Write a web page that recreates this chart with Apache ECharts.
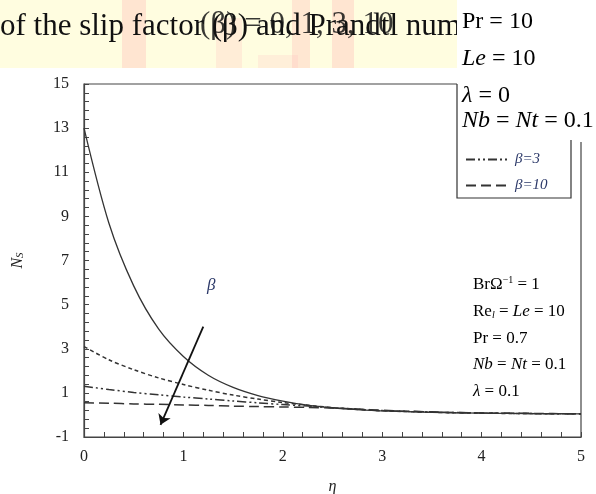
<!DOCTYPE html>
<html>
<head>
<meta charset="utf-8">
<script src="https://cdn.jsdelivr.net/npm/echarts@6/dist/echarts.min.js"></script>
<style>
  html, body { margin: 0; padding: 0; background: #fff; }
  #chart { width: 596px; height: 494px; }
</style>
</head>
<body>
<div id="chart"></div>
<script>
// eta values along the x axis
const eta = [0, 0.25, 0.5, 0.75, 1, 1.25, 1.5, 1.75, 2, 2.25, 2.5, 2.75, 3, 3.5, 4, 4.5, 5];
// entropy generation N_s for each slip factor
const nsBeta0 = [13, 8.7, 5.85, 3.9, 2.65, 1.8, 1.25, 0.88, 0.63, 0.44, 0.32, 0.24, 0.18, 0.12, 0.08, 0.06, 0.05];
const nsBeta1 = [3.1, 2.5, 2.05, 1.68, 1.38, 1.12, 0.9, 0.72, 0.56, 0.44, 0.33, 0.25, 0.19, 0.12, 0.08, 0.06, 0.05];
const nsBeta3 = [1.3, 1.15, 1.02, 0.91, 0.81, 0.72, 0.63, 0.55, 0.47, 0.4, 0.33, 0.26, 0.2, 0.13, 0.09, 0.06, 0.05];
const nsBeta10 = [0.55, 0.53, 0.5, 0.48, 0.45, 0.43, 0.4, 0.38, 0.36, 0.34, 0.31, 0.27, 0.21, 0.14, 0.09, 0.07, 0.05];
const xTicks = [0, 1, 2, 3, 4, 5];
const yTicks = [-1, 1, 3, 5, 7, 9, 11, 13, 15];

const serif = 'Liberation Serif';
const ink = '#333';

function pairs(ys) {
  return eta.map((x, i) => [x, ys[i]]);
}

// one line of the top-right parameter box
function boxLine(text, y) {
  return {
    type: 'text', z: 12, x: 462, y: y,
    style: {
      text: text, verticalAlign: 'middle',
      rich: {
        r: { fontFamily: serif, fontSize: 24, color: '#111' },
        i: { fontFamily: serif, fontStyle: 'italic', fontSize: 24, color: '#111' }
      }
    }
  };
}

const chart = echarts.init(document.getElementById('chart'));

const option = {
  animation: false,
  backgroundColor: '#fff',
  grid: {
    left: 84, right: 15, top: 84, bottom: 57,
    outerBoundsMode: 'none', containLabel: false,
    show: true, borderColor: '#444', borderWidth: 1.2, backgroundColor: 'transparent'
  },
  xAxis: {
    type: 'value',
    min: xTicks[0], max: xTicks[xTicks.length - 1], interval: 1,
    name: 'η', nameLocation: 'middle', nameGap: 42,
    nameTextStyle: { fontFamily: serif, fontStyle: 'italic', fontSize: 16, color: '#222' },
    axisLine: { onZero: false, lineStyle: { color: '#444', width: 1.2 } },
    axisTick: { inside: true, length: 5, lineStyle: { color: '#444' } },
    minorTick: { show: true, splitNumber: 5, length: 5, lineStyle: { color: '#444' } },
    axisLabel: { fontFamily: serif, fontSize: 16, color: '#222', margin: 12 },
    splitLine: { show: false }
  },
  yAxis: {
    type: 'value',
    min: yTicks[0], max: yTicks[yTicks.length - 1], interval: 2,
    name: '{n|N}{s|S}', nameLocation: 'middle', nameGap: 58, nameRotate: 90,
    nameTextStyle: {
      rich: {
        n: { fontFamily: serif, fontStyle: 'italic', fontSize: 16, color: '#222' },
        s: { fontFamily: serif, fontStyle: 'italic', fontSize: 11, color: '#222', padding: [6, 0, 0, 0] }
      }
    },
    axisLine: { onZero: false, lineStyle: { color: '#444', width: 1.2 } },
    axisTick: { inside: true, length: 5, lineStyle: { color: '#444' } },
    minorTick: { show: true, splitNumber: 5, length: 5, lineStyle: { color: '#444' } },
    axisLabel: { fontFamily: serif, fontSize: 16, color: '#222', margin: 15 },
    splitLine: { show: false }
  },
  legend: {
    data: ['β=3', 'β=10'],
    orient: 'vertical',
    left: 460, top: 147,
    itemWidth: 44, itemHeight: 10, itemGap: 11,
    z: 20,
    itemStyle: { color: 'rgba(0,0,0,0)', borderColor: 'rgba(0,0,0,0)', borderWidth: 0, opacity: 0 },
    textStyle: { fontFamily: serif, fontStyle: 'italic', fontSize: 15, color: '#2b3868' }
  },
  series: [
    {
      name: 'β=0', type: 'line', data: pairs(nsBeta0), smooth: 0.3, symbol: 'none',
      lineStyle: { color: ink, width: 1.3, type: 'solid' },
      markLine: {
        silent: true, symbol: ['none', 'arrow'], symbolSize: 10,
        lineStyle: { color: '#111', width: 1.8, type: 'solid' },
        label: { show: false },
        data: [[{ coord: [1.2, 4.0] }, { coord: [0.77, -0.45] }]]
      },
      markPoint: {
        symbol: 'circle', symbolSize: 0,
        label: { show: true, formatter: 'β', fontFamily: serif, fontStyle: 'italic', fontSize: 17, color: '#2b3868' },
        data: [{ coord: [1.28, 5.85] }]
      }
    },
    {
      name: 'β=1', type: 'line', data: pairs(nsBeta1), smooth: 0.3, symbol: 'none',
      lineStyle: { color: ink, width: 1.5, type: [4, 3] }
    },
    {
      name: 'β=3', type: 'line', data: pairs(nsBeta3), smooth: 0.3, symbol: 'none',
      lineStyle: { color: ink, width: 1.5, type: [9, 3, 2, 3, 2, 3] }
    },
    {
      name: 'β=10', type: 'line', data: pairs(nsBeta10), smooth: 0.3, symbol: 'none',
      lineStyle: { color: ink, width: 1.5, type: [10, 5] }
    }
  ],
  graphic: [
    // highlighted strip of the page behind the chart top
    { type: 'rect', z: -10, shape: { x: 0, y: 0, width: 457, height: 68 }, style: { fill: '#fffde0' } },
    { type: 'rect', z: -9, shape: { x: 122, y: 0, width: 24, height: 68 }, style: { fill: 'rgba(255,175,175,0.3)' } },
    { type: 'rect', z: -9, shape: { x: 216, y: 18, width: 26, height: 50 }, style: { fill: 'rgba(255,180,180,0.22)' } },
    { type: 'rect', z: -9, shape: { x: 258, y: 55, width: 40, height: 13 }, style: { fill: 'rgba(255,190,190,0.22)' } },
    { type: 'rect', z: -9, shape: { x: 292, y: 0, width: 18, height: 68 }, style: { fill: 'rgba(255,175,175,0.28)' } },
    { type: 'rect', z: -9, shape: { x: 332, y: 0, width: 22, height: 68 }, style: { fill: 'rgba(255,175,175,0.3)' } },
    {
      type: 'text', z: 5, x: 0, y: 11,
      style: { text: 'of the slip factor (β) and Prandtl num', font: '31px "Liberation Serif"', fill: '#111', verticalAlign: 'top' }
    },
    {
      type: 'text', z: 5, x: 200, y: 9,
      style: { text: '(β) = 0, 1, 3, 10', font: '31px "Liberation Serif"', fill: 'rgba(20,20,20,0.85)', verticalAlign: 'top' }
    },
    // white box over the top-right corner
    { type: 'rect', z: 10, shape: { x: 457, y: 0, width: 139, height: 142 }, style: { fill: '#fff' } },
    { type: 'rect', z: 10, shape: { x: 457, y: 140, width: 114, height: 58 }, style: { fill: '#fff' } },
    { type: 'rect', z: 9, shape: { x: 486, y: 0, width: 110, height: 5 }, style: { fill: 'rgba(255,190,190,0.35)' } },
    {
      type: 'polyline', z: 11,
      shape: { points: [[457, 84], [457, 198], [571, 198], [571, 140]] },
      style: { stroke: '#333', lineWidth: 1.2, fill: null }
    },
    boxLine('{r|Pr = 10}', 22),
    boxLine('{i|Le}{r| = 10}', 59),
    boxLine('{i|λ}{r| = 0}', 96),
    boxLine('{i|Nb}{r| = }{i|Nt}{r| = 0.1}', 121),
    {
      type: 'text', z: 12, left: 473, top: 275,
      style: {
        text: '{r|BrΩ}{sup|−1}{r| = 1}\n{r|Re}{sub|l}{r| = }{i|Le}{r| = 10}\n{r|Pr = 0.7}\n{i|Nb}{r| = }{i|Nt}{r| = 0.1}\n{i|λ}{r| = 0.1}',
        rich: {
          r: { fontFamily: serif, fontSize: 17, color: '#222', lineHeight: 26.8 },
          i: { fontFamily: serif, fontStyle: 'italic', fontSize: 17, color: '#222', lineHeight: 26.8 },
          sup: { fontFamily: serif, fontSize: 10, color: '#222', lineHeight: 26.8, padding: [0, 0, 9, 0] },
          sub: { fontFamily: serif, fontStyle: 'italic', fontSize: 10, color: '#222', lineHeight: 26.8, padding: [9, 0, 0, 0] }
        }
      }
    }
  ]
};

chart.setOption(option);
</script>
</body>
</html>
